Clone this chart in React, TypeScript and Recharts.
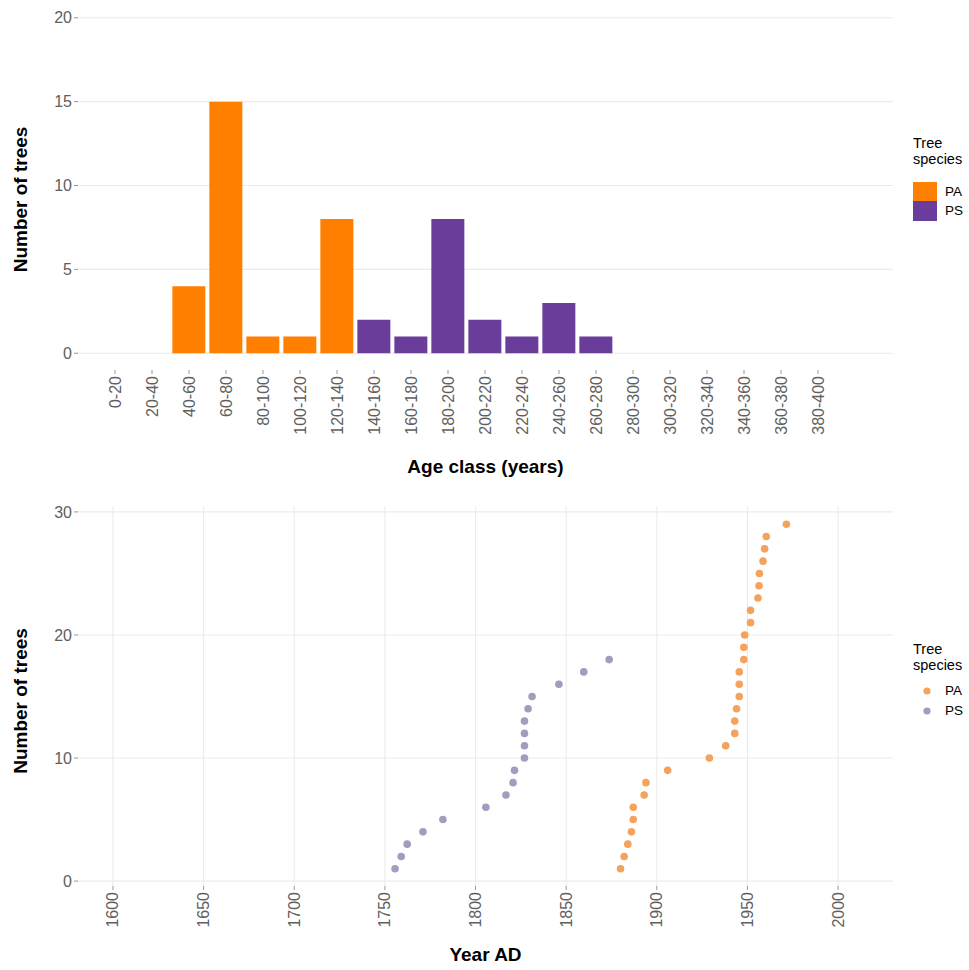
import React from 'react';
import { BarChart, Bar, XAxis, YAxis, CartesianGrid, Legend, ScatterChart, Scatter } from 'recharts';

const FONT = '"Liberation Sans", Arial, Helvetica, sans-serif';

// ---- Top chart: age class histogram ----
const ageClasses = ['0-20', '20-40', '40-60', '60-80', '80-100', '100-120', '120-140', '140-160', '160-180', '180-200', '200-220', '220-240', '240-260', '260-280', '280-300', '300-320', '320-340', '340-360', '360-380', '380-400'];
const paCounts = [null, null, 4, 15, 1, 1, 8, null, null, null, null, null, null, null, null, null, null, null, null, null];
const psCounts = [null, null, null, null, null, null, null, 2, 1, 8, 2, 1, 3, 1, null, null, null, null, null, null];
const countTicks = [0, 5, 10, 15, 20];

// ---- Bottom chart: establishment year vs rank ----
const paYears = [1880, 1882, 1884, 1886, 1887, 1887, 1893, 1894, 1906, 1929, 1938, 1943, 1943, 1944, 1945.5, 1945.5, 1945.5, 1948, 1948, 1948.5, 1951.7, 1951.7, 1955.8, 1956.4, 1956.6, 1958.6, 1959.5, 1960.4, 1971.5];
const psYears = [1755.6, 1759, 1762.3, 1771, 1782, 1805.7, 1816.8, 1820.7, 1821.5, 1827, 1827, 1827, 1827, 1829, 1831.2, 1846, 1859.7, 1873.7];
const yearTicks = [1600, 1650, 1700, 1750, 1800, 1850, 1900, 1950, 2000];
const rankTicks = [0, 10, 20, 30];

const speciesNames = ['PA', 'PS'];
const barColors = ['#FF7F00', '#6A3D9A'];
const pointColors = ['#F5A25C', '#A09EBF'];

const barData = ageClasses.map((c, i) => ({ cls: c, PA: paCounts[i], PS: psCounts[i] }));
const paPoints = paYears.map((y, i) => ({ year: y, rank: i + 1 }));
const psPoints = psYears.map((y, i) => ({ year: y, rank: i + 1 }));

const TICK_SIZE = 16;
const TICK_FILL = '#606060';
const tickStyle = { fontSize: TICK_SIZE, fill: TICK_FILL, fontFamily: FONT };
const titleStyle = { fontSize: 19, fontWeight: 'bold', fill: '#000', fontFamily: FONT };

const RotTick = (props: any) => {
  const { x, y, payload } = props;
  return (
    <text
      x={x}
      y={y}
      transform={`rotate(-90 ${x} ${y})`}
      textAnchor="end"
      dominantBaseline="central"
      fontSize={TICK_SIZE}
      fill={TICK_FILL}
      fontFamily={FONT}
    >
      {payload.value}
    </text>
  );
};

const makeYTitle = (shift: number) => (props: any) => {
  const { viewBox } = props;
  const cx = viewBox.x + 20.5;
  const cy = viewBox.y + viewBox.height / 2 + shift;
  return (
    <text
      x={cx}
      y={cy}
      transform={`rotate(-90 ${cx} ${cy})`}
      textAnchor="middle"
      dominantBaseline="central"
      fontSize={19}
      fontWeight="bold"
      fill="#000"
      fontFamily={FONT}
    >
      Number of trees
    </text>
  );
};

const BarLegend = () => (
  <div style={{ fontFamily: FONT, color: '#000' }}>
    <div style={{ fontSize: 14.5, lineHeight: '16px' }}>Tree<br />species</div>
    <div style={{ marginTop: 15 }}>
      {speciesNames.map((n, i) => (
        <div key={n} style={{ display: 'flex', alignItems: 'center', height: 19.5 }}>
          <span style={{ display: 'inline-block', width: 24, height: 19.5, background: barColors[i] }} />
          <span style={{ marginLeft: 8, fontSize: 13.5 }}>{n}</span>
        </div>
      ))}
    </div>
  </div>
);

const PointLegend = () => (
  <div style={{ fontFamily: FONT, color: '#000' }}>
    <div style={{ fontSize: 14.5, lineHeight: '16px' }}>Tree<br />species</div>
    <div style={{ marginTop: 8 }}>
      {speciesNames.map((n, i) => (
        <div key={n} style={{ display: 'flex', alignItems: 'center', height: 20 }}>
          <svg width={24} height={20}>
            <circle cx={14} cy={10} r={3.6} fill={pointColors[i]} />
          </svg>
          <span style={{ marginLeft: 8, fontSize: 13.5 }}>{n}</span>
        </div>
      ))}
    </div>
  </div>
);

export default function App() {
  return (
    <div style={{ position: 'absolute', left: 0, top: 0, width: 969, height: 970, background: '#fff' }}>
      <BarChart width={969} height={480} data={barData} margin={{ top: 1, right: 76, bottom: 0, left: 0 }} barCategoryGap="5%">
        <CartesianGrid vertical={false} stroke="#EBEBEB" strokeWidth={1.1} syncWithTicks />
        <XAxis
          dataKey="cls"
          type="category"
          interval={0}
          height={110}
          padding={{ left: 18.5, right: 56.5 }}
          axisLine={false}
          tickLine={{ stroke: '#999' }}
          tickSize={4}
          tick={<RotTick />}
          label={{ value: 'Age class (years)', position: 'insideBottom', offset: 7, style: titleStyle }}
        />
        <YAxis
          type="number"
          domain={[-1, 21]}
          ticks={countTicks}
          allowDataOverflow
          width={78}
          axisLine={false}
          tickLine={{ stroke: '#999' }}
          tickSize={4}
          tick={tickStyle}
          label={{ value: 'Number of trees', content: makeYTitle(14) }}
        />
        <Bar dataKey="PA" stackId="a" fill={barColors[0]} isAnimationActive={false} />
        <Bar dataKey="PS" stackId="a" fill={barColors[1]} isAnimationActive={false} />
        <Legend
          layout="vertical"
          align="center"
          verticalAlign="middle"
          content={<BarLegend />}
          wrapperStyle={{ left: 913, top: 134.5, width: 56 }}
        />
      </BarChart>
      <ScatterChart width={969} height={490} margin={{ top: 27, right: 76, bottom: 0, left: 0 }}>
        <CartesianGrid stroke="#EBEBEB" strokeWidth={1.1} syncWithTicks />
        <XAxis
          dataKey="year"
          type="number"
          domain={[1580.7, 2030.3]}
          ticks={yearTicks}
          allowDataOverflow
          height={84}
          axisLine={false}
          tickLine={{ stroke: '#999' }}
          tickSize={4}
          tick={<RotTick />}
          label={{ value: 'Year AD', position: 'insideBottom', offset: 9, style: titleStyle }}
        />
        <YAxis
          dataKey="rank"
          type="number"
          domain={[-0.4, 30.4]}
          ticks={rankTicks}
          allowDataOverflow
          width={78}
          axisLine={false}
          tickLine={{ stroke: '#999' }}
          tickSize={4}
          tick={tickStyle}
          label={{ value: 'Number of trees', content: makeYTitle(4.5) }}
        />
        <Scatter
          name="PA"
          data={paPoints}
          isAnimationActive={false}
          shape={(p: any) => <circle cx={p.cx} cy={p.cy} r={3.8} fill={pointColors[0]} />}
        />
        <Scatter
          name="PS"
          data={psPoints}
          isAnimationActive={false}
          shape={(p: any) => <circle cx={p.cx} cy={p.cy} r={3.8} fill={pointColors[1]} />}
        />
        <Legend
          layout="vertical"
          align="center"
          verticalAlign="middle"
          content={<PointLegend />}
          wrapperStyle={{ left: 913, top: 160.5, width: 56 }}
        />
      </ScatterChart>
    </div>
  );
}
